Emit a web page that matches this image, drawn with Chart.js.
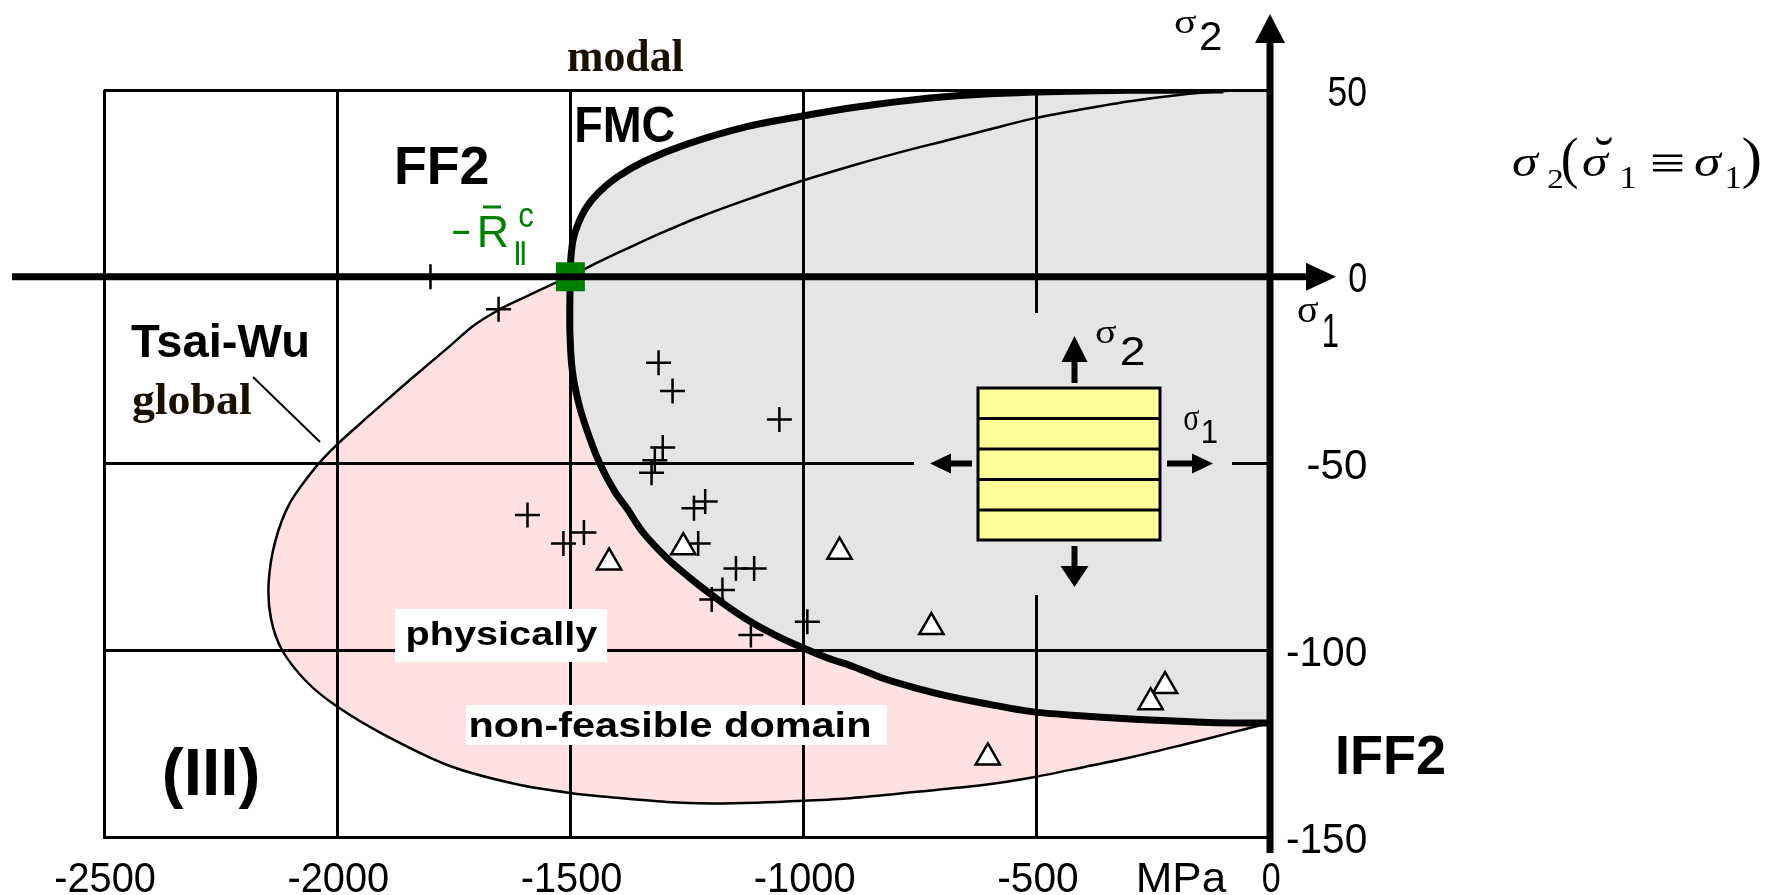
<!DOCTYPE html>
<html>
<head>
<meta charset="utf-8">
<script src="https://cdn.jsdelivr.net/npm/chart.js@4.4.0/dist/chart.umd.min.js"></script>
<style>
  html, body { margin: 0; padding: 0; background: #fff; }
  canvas { display: block; }
</style>
</head>
<body>
<canvas id="chart" width="1772" height="895"></canvas>
<script>
// values, [sigma1, sigma2] in MPa

const xTicks = [-2500, -2000, -1500, -1000, -500, 0];
const xTickLabels = ['-2500', '-2000', '-1500', '-1000', '-500', '0'];
const yTicks = [50, 0, -50, -100, -150];
const yTickLabels = ['50', '0', '-50', '-100', '-150'];

// FMC failure curve (thick)
const fmcUpper = [[-1500,0],[-1499,5],[-1494,10],[-1484,14],[-1466,18.5],[-1440,22.5],[-1400,26.7],
  [-1340,31],[-1250,35.5],[-1128,40],[-1008,42.9],[-882,45.5],[-734,47.8],[-600,49],[-450,49.6],
  [-300,49.9],[-100,50]];
const fmcLower = [[-1500,0],[-1501,-5],[-1501,-15],[-1496,-25],[-1482,-34],[-1462,-42],[-1437,-50],
  [-1405,-57.5],[-1379,-62],[-1344,-68.5],[-1290,-75.7],[-1245,-80.5],[-1201,-84.8],[-1155,-89],
  [-1108,-92.8],[-1060,-96],[-1008,-99],[-950,-102],[-893,-104.4],[-830,-107.5],[-757,-110.2],
  [-690,-112.3],[-615,-114.2],[-507,-116.5],[-400,-117.6],[-257,-118.7],[-114,-119.4],[0,-119.5]];

// Tsai-Wu global curve (thin)
const twUpper = [[-1500,0],[-1450,3.3],[-1400,6.3],[-1350,9.2],[-1300,12],[-1227,15.8],[-1120,20.7],
  [-1008,25.5],[-900,29.6],[-800,33.1],[-700,36.3],[-600,39.5],[-507,42.4],[-400,44.9],[-300,47],
  [-200,48.6],[-100,49.7],[-50,50]];
const twLower = [[-1500,0],[-1544,-2.3],[-1600,-5.6],[-1654,-8.9],[-1710,-13.3],[-1758,-18.5],
  [-1810,-24],[-1866,-30],[-1937,-37.8],[-2001,-45],[-2045,-50.8],[-2101,-60.5],[-2133,-70.9],
  [-2147,-82],[-2142,-91.5],[-2118,-100],[-2065,-108.5],[-2001,-115],[-1901,-122.5],[-1758,-131],
  [-1615,-135.9],[-1501,-138.2],[-1401,-139.5],[-1294,-140.6],[-1200,-141],[-1100,-140.8],
  [-1000,-140.3],[-900,-139.6],[-757,-137.9],[-615,-136.1],[-507,-134],[-400,-131.3],[-293,-128.5],
  [-186,-125.3],[-100,-122.6],[-50,-121],[0,-119.5]];

// test points
const plusPts = [[-1800,0],[-1654,-8.7],[-1311,-23],[-1281,-30.6],[-1052,-38.2],[-1302,-45.7],
  [-1319,-49.1],[-1326,-52.5],[-1211,-60.2],[-1235,-62],[-1592,-63.8],[-1471,-68.5],[-1515,-71.4],
  [-1226,-71.4],[-1145,-78.1],[-1106,-78.1],[-1174,-83.9],[-1197,-86.4],[-992,-92.4],[-1113,-95.9]];
const trianglePts = [[-1417,-76.5],[-1258,-72.4],[-923,-73.6],[-726,-93.8],[-225,-109.6],
  [-256,-113.9],[-605,-128.7]];
const cornerPt = [[-1500,0]];

const GREY = '#e5e5e5';
const PINK = '#ffe1e1';
const YELLOW = '#ffff99';
const GREEN = '#008000';
const DARK = '#1a1000';

const toXY = pts => pts.map(p => ({x: p[0], y: p[1]}));

// closed shapes for the two filled domains
const greyShape = fmcUpper.slice().reverse().concat(fmcLower.slice(1), [[0, 50]]);
const pinkShape = twLower.concat(fmcLower.slice().reverse());

// draws text so that its ink fills the box left, top, w, h
function fitBox(ctx, text, left, top, w, h, font, color) {
  ctx.save();
  ctx.font = font;
  ctx.fillStyle = color || '#000';
  ctx.textAlign = 'left';
  ctx.textBaseline = 'alphabetic';
  const m = ctx.measureText(text);
  const iw = m.actualBoundingBoxLeft + m.actualBoundingBoxRight;
  const ih = m.actualBoundingBoxAscent + m.actualBoundingBoxDescent;
  ctx.translate(left, top);
  ctx.scale(w / iw, h / ih);
  ctx.fillText(text, m.actualBoundingBoxLeft, m.actualBoundingBoxAscent);
  ctx.restore();
}

function arrowHead(ctx, tipX, tipY, dir, len, half) {
  ctx.beginPath();
  if (dir === 'up') { ctx.moveTo(tipX, tipY); ctx.lineTo(tipX - half, tipY + len); ctx.lineTo(tipX + half, tipY + len); }
  if (dir === 'down') { ctx.moveTo(tipX, tipY); ctx.lineTo(tipX - half, tipY - len); ctx.lineTo(tipX + half, tipY - len); }
  if (dir === 'left') { ctx.moveTo(tipX, tipY); ctx.lineTo(tipX + len, tipY - half); ctx.lineTo(tipX + len, tipY + half); }
  if (dir === 'right') { ctx.moveTo(tipX, tipY); ctx.lineTo(tipX - len, tipY - half); ctx.lineTo(tipX - len, tipY + half); }
  ctx.closePath();
  ctx.fill();
}

// ink width of a tick label in the narrow digit font of the original
const labelWidth = s => (s[0] === '-' ? 21 : 0) + 20.5 * s.replace('-', '').length - 3.5;

const SANS = '40px "Liberation Sans"';
const SERIF = '40px "Liberation Serif"';
const SIGMA = 'italic 56px "Liberation Serif"';

const decor = {
  id: 'decor',
  beforeDatasetsDraw(chart) {
    // grey patch behind the ply sketch hides the grid there
    const ctx = chart.ctx;
    ctx.save();
    ctx.fillStyle = GREY;
    ctx.fillRect(914, 313, 318, 282);
    ctx.restore();
  },
  afterDraw(chart) {
    const ctx = chart.ctx;
    const sx = chart.scales.x, sy = chart.scales.y;
    const x0 = sx.getPixelForValue(0), y0 = sy.getPixelForValue(0);
    ctx.save();
    ctx.fillStyle = '#000';

    // sigma1 / sigma2 axes with arrows
    ctx.fillRect(12, y0 - 3.5, 1306 - 12, 7);
    arrowHead(ctx, 1336, y0, 'right', 30, 14);
    ctx.fillRect(x0 - 3.5, 42, 7, 853 - 42);
    arrowHead(ctx, x0, 14, 'up', 29, 15);

    // ply sketch
    ctx.fillStyle = YELLOW;
    ctx.fillRect(978, 388, 182, 152);
    ctx.strokeStyle = '#000';
    ctx.lineWidth = 3;
    ctx.strokeRect(978, 388, 182, 152);
    ctx.beginPath();
    [418.5, 449, 479.5, 510].forEach(v => { ctx.moveTo(978, v); ctx.lineTo(1160, v); });
    ctx.stroke();
    ctx.fillStyle = '#000';
    ctx.fillRect(1071.5, 358, 6, 25);
    arrowHead(ctx, 1074.5, 336, 'up', 26, 13);
    ctx.fillRect(1071.5, 546, 6, 24);
    arrowHead(ctx, 1074.5, 587, 'down', 21, 14);
    ctx.fillRect(945, 460.5, 27, 6);
    arrowHead(ctx, 930, 463.5, 'left', 21, 10);
    ctx.fillRect(1167, 460.5, 27, 6);
    arrowHead(ctx, 1213, 463.5, 'right', 21, 10);

    // tick labels
    xTicks.forEach((v, i) => {
      const s = xTickLabels[i], w = labelWidth(s);
      fitBox(ctx, s, sx.getPixelForValue(v) + 1 - w / 2, 862, w, 30, SANS);
    });
    fitBox(ctx, 'MPa', 1139, 862, 88, 30, SANS);
    yTicks.forEach((v, i) => {
      const s = yTickLabels[i], w = labelWidth(s);
      fitBox(ctx, s, 1366 - w, sy.getPixelForValue(v) - 14.5, w, 30, SANS);
    });

    // axis symbols
    fitBox(ctx, 'σ', 1175, 15, 21, 18, SERIF);
    fitBox(ctx, '2', 1201, 22, 20, 28, SANS);
    fitBox(ctx, 'σ', 1298, 302, 20, 20, SERIF);
    fitBox(ctx, '1', 1324, 313, 14, 34, SANS);
    fitBox(ctx, 'σ', 1096, 325, 20, 18, SERIF);
    fitBox(ctx, '2', 1122, 337, 22, 28, SANS);
    fitBox(ctx, 'σ', 1184, 410, 15, 20, SERIF);
    fitBox(ctx, '1', 1203, 420, 14, 23, SANS);

    // region labels
    fitBox(ctx, 'modal', 568, 39, 115, 32, 'bold 46px "Liberation Serif"', DARK);
    fitBox(ctx, 'FMC', 577, 107, 98, 35, 'bold 49px "Liberation Sans"');
    fitBox(ctx, 'FF2', 397, 146, 91, 38, 'bold 53px "Liberation Sans"');
    fitBox(ctx, 'Tsai-Wu', 131, 322, 176, 36, 'bold 51px "Liberation Sans"');
    fitBox(ctx, 'global', 133, 383, 118, 40, 'bold 42px "Liberation Serif"', DARK);
    fitBox(ctx, '(III)', 164, 747, 93, 61, 'bold 60px "Liberation Sans"');
    fitBox(ctx, 'IFF2', 1338, 735, 106, 39, 'bold 54px "Liberation Sans"');

    ctx.fillStyle = '#fff';
    ctx.fillRect(395, 609, 212, 53);
    ctx.fillRect(466, 705, 421, 40);
    fitBox(ctx, 'physically', 408, 621, 190, 31, 'bold 33px "Liberation Sans"');
    fitBox(ctx, 'non-feasible domain', 471, 712, 399, 25, 'bold 33px "Liberation Sans"');

    // leader from "global" to the curve
    ctx.strokeStyle = '#000';
    ctx.lineWidth = 2;
    ctx.beginPath();
    ctx.moveTo(253, 377);
    ctx.lineTo(320, 442);
    ctx.stroke();

    // -R||^c (green)
    fitBox(ctx, '-', 452, 230, 18, 4, SANS, GREEN);
    fitBox(ctx, 'R', 480, 216, 28, 31, SANS, GREEN);
    ctx.fillStyle = GREEN;
    ctx.fillRect(483, 205.5, 18, 3);
    fitBox(ctx, 'c', 519, 208, 14, 19, SANS, GREEN);
    fitBox(ctx, '∥', 515, 241, 11, 25, '30px "DejaVu Sans"', GREEN);

    // formula on the right
    fitBox(ctx, 'σ', 1513, 153, 27, 24, SIGMA);
    fitBox(ctx, '2', 1548, 170, 14, 18, SERIF);
    fitBox(ctx, '(', 1562, 138, 16, 52, SERIF);
    fitBox(ctx, 'σ', 1583, 153, 27, 24, SIGMA);
    fitBox(ctx, '˘', 1596, 137, 17, 8, SERIF);
    fitBox(ctx, '1', 1622, 168, 13, 20, SERIF);
    fitBox(ctx, '≡', 1653, 153, 30, 19, SERIF);
    fitBox(ctx, 'σ', 1695, 153, 28, 24, SIGMA);
    fitBox(ctx, '1', 1727, 168, 13, 20, SERIF);
    fitBox(ctx, ')', 1743, 138, 17, 52, SERIF);

    ctx.restore();
  }
};

new Chart(document.getElementById('chart'), {
  type: 'scatter',
  data: {
    datasets: [
      { label: 'corner', data: toXY(cornerPt), pointStyle: 'rect', pointRadius: 20.5,
        backgroundColor: GREEN, borderColor: GREEN, borderWidth: 0 },
      { label: 'triangles', data: toXY(trianglePts), pointStyle: 'triangle', pointRadius: 14,
        backgroundColor: '#fff', borderColor: '#000', borderWidth: 2.5 },
      { label: 'crosses', data: toXY(plusPts), pointStyle: 'cross', pointRadius: 12.5,
        borderColor: '#000', borderWidth: 2.5 },
      { label: 'FMC upper', data: toXY(fmcUpper), showLine: true, pointRadius: 0,
        borderColor: '#000', borderWidth: 7, tension: 0.3 },
      { label: 'FMC lower', data: toXY(fmcLower), showLine: true, pointRadius: 0,
        borderColor: '#000', borderWidth: 7, tension: 0.3 },
      { label: 'Tsai-Wu upper', data: toXY(twUpper), showLine: true, pointRadius: 0,
        borderColor: '#000', borderWidth: 2.5, tension: 0.3 },
      { label: 'Tsai-Wu lower', data: toXY(twLower), showLine: true, pointRadius: 0,
        borderColor: '#000', borderWidth: 2.5, tension: 0.3 },
      { label: 'FMC domain', data: toXY(greyShape), showLine: true, pointRadius: 0,
        borderColor: 'rgba(0,0,0,0)', backgroundColor: GREY, fill: 'shape' },
      { label: 'non-feasible', data: toXY(pinkShape), showLine: true, pointRadius: 0,
        borderColor: 'rgba(0,0,0,0)', backgroundColor: PINK, fill: 'shape' }
    ]
  },
  options: {
    responsive: false,
    animation: false,
    events: [],
    layout: { padding: { left: 104, right: 502, top: 90, bottom: 58 } },
    plugins: {
      legend: { display: false },
      tooltip: { enabled: false },
      filler: { drawTime: 'beforeDraw' }
    },
    scales: {
      x: {
        type: 'linear', min: -2500, max: 0,
        afterBuildTicks: s => { s.ticks = xTicks.map(v => ({ value: v })); },
        ticks: { display: false },
        grid: { color: '#000', lineWidth: 3, drawTicks: false },
        border: { display: true, color: '#000', width: 3 }
      },
      y: {
        type: 'linear', position: 'right', min: -150, max: 50,
        afterBuildTicks: s => { s.ticks = yTicks.map(v => ({ value: v })); },
        ticks: { display: false },
        grid: { color: '#000', lineWidth: 3, drawTicks: false },
        border: { display: true, color: '#000', width: 3 }
      }
    }
  },
  plugins: [decor]
});
</script>
</body>
</html>
